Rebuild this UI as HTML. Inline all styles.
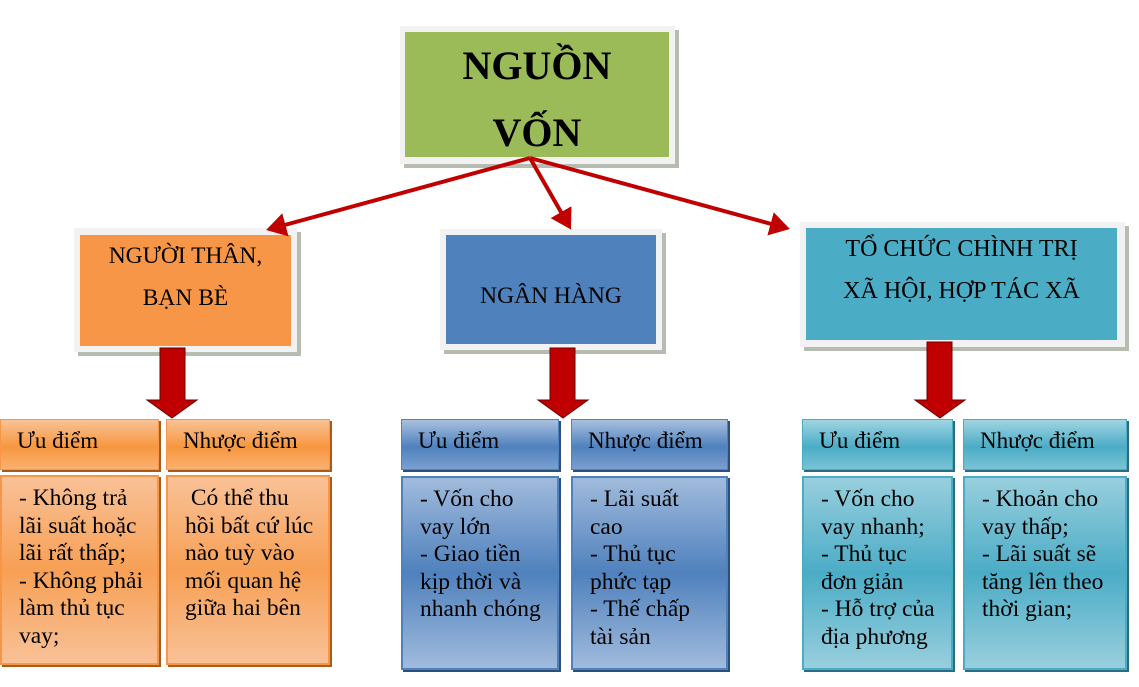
<!DOCTYPE html>
<html><head><meta charset="utf-8"><style>
body{margin:0;width:1139px;height:687px;background:#fff;position:relative;overflow:hidden;font-family:"Liberation Serif",serif;color:#000}
.a{position:absolute;box-sizing:border-box}
.fr{background:#f2f2f2;box-shadow:4px 4px 0 #b7bcb0}
.t{font-size:23.5px;line-height:27px;white-space:nowrap}
.h{font-size:23px;line-height:27px;padding:7px 0 0 16px;white-space:nowrap}
.b{font-size:23.5px;line-height:27.5px;padding:8px 0 0 17px;white-space:nowrap}
.oh{background:linear-gradient(#f9c295,#f7973f 55%,#fbb070);border:1px solid #f79646;box-shadow:2px 2px 0 #a95b1d}
.ob{background:linear-gradient(#f9c197,#f7a055 50%,#f9c197);border:2px solid #f79646;box-shadow:2px 2px 0 #a95b1d}
.bh{background:linear-gradient(#a9c0df,#4f81bd 55%,#7a9fd0);border:1px solid #4f81bd;box-shadow:2px 2px 0 #2d4f7c}
.bb{background:linear-gradient(#a1bbdc,#4f81bd 50%,#a1bbdc);border:2px solid #4f81bd;box-shadow:2px 2px 0 #2d4f7c}
.th{background:linear-gradient(#9fd5e2,#4bacc6 55%,#7ac3d6);border:1px solid #4bacc6;box-shadow:2px 2px 0 #2a6d80}
.tb{background:linear-gradient(#98cfdd,#4bacc6 50%,#98cfdd);border:2px solid #4bacc6;box-shadow:2px 2px 0 #2a6d80}
</style></head><body>
<div class="a fr" style="left:400px;top:26px;width:275px;height:138px"></div>
<div class="a" style="left:405px;top:32px;width:264px;height:125px;background:#9bbb59;text-align:center;font-weight:bold;font-size:40px;line-height:67px;padding-top:0px">NGUỒN<br>VỐN</div>

<div class="a fr" style="left:74px;top:228px;width:223px;height:124px"></div>
<div class="a t" style="left:80px;top:235px;width:211px;height:111px;background:#f79646;text-align:center;padding-top:0px;line-height:42px">NGƯỜI THÂN,<br>BẠN BÈ</div>

<div class="a fr" style="left:440px;top:229px;width:222px;height:121px"></div>
<div class="a t" style="left:446px;top:235px;width:210px;height:109px;background:#4f81bd;text-align:center;padding-top:48px">NGÂN HÀNG</div>

<div class="a fr" style="left:800px;top:222px;width:325px;height:125px"></div>
<div class="a t" style="left:806px;top:228px;width:311px;height:112px;background:#4bacc6;text-align:center;padding-top:0px;line-height:42px;font-size:24px">TỔ CHỨC CHÌNH TRỊ<br>XÃ HỘI, HỢP TÁC XÃ</div>

<svg class="a" style="left:0;top:0" width="1139" height="687">
<defs><marker id="m" markerWidth="6" markerHeight="6" refX="4" refY="3" orient="auto" markerUnits="strokeWidth"><path d="M0,0 L5,3 L0,6 z" fill="#c00000"/></marker></defs>
<g stroke="#c00000" stroke-width="4" fill="none">
<line x1="530" y1="158" x2="270" y2="229" marker-end="url(#m)"/>
<line x1="530" y1="158" x2="569" y2="226" marker-end="url(#m)"/>
<line x1="530" y1="158" x2="786" y2="228" marker-end="url(#m)"/>
</g>
<g fill="#c00000" stroke="#6b0000" stroke-width="1">
<path d="M160,348 H185 V400 H197 L172,418 L147,400 H160 Z"/>
<path d="M550,348 H575 V400 H588 L563,418 L538,400 H550 Z"/>
<path d="M927,342 H952 V400 H965 L940,418 L915,400 H927 Z"/>
</g>
</svg>

<div class="a h oh" style="left:0;top:419px;width:159px;height:51px">Ưu điểm</div>
<div class="a h oh" style="left:166px;top:419px;width:164px;height:51px">Nhược điểm</div>
<div class="a b ob" style="left:0;top:475px;width:159px;height:190px">- Không trả<br>lãi suất hoặc<br>lãi rất thấp;<br>- Không phải<br>làm thủ tục<br>vay;</div>
<div class="a b ob" style="left:166px;top:475px;width:164px;height:190px">&nbsp;Có thể thu<br>hồi bất cứ lúc<br>nào tuỳ vào<br>mối quan hệ<br>giữa hai bên</div>

<div class="a h bh" style="left:401px;top:419px;width:158px;height:51px">Ưu điểm</div>
<div class="a h bh" style="left:571px;top:419px;width:157px;height:51px">Nhược điểm</div>
<div class="a b bb" style="left:401px;top:476px;width:158px;height:194px">- Vốn cho<br>vay lớn<br>- Giao tiền<br>kịp thời và<br>nhanh chóng</div>
<div class="a b bb" style="left:571px;top:476px;width:157px;height:194px">- Lãi suất<br>cao<br>- Thủ tục<br>phức tạp<br>- Thế chấp<br>tài sản</div>

<div class="a h th" style="left:802px;top:419px;width:151px;height:51px">Ưu điểm</div>
<div class="a h th" style="left:963px;top:419px;width:164px;height:51px">Nhược điểm</div>
<div class="a b tb" style="left:802px;top:476px;width:151px;height:194px">- Vốn cho<br>vay nhanh;<br>- Thủ tục<br>đơn giản<br>- Hỗ trợ của<br>địa phương</div>
<div class="a b tb" style="left:963px;top:476px;width:164px;height:194px">- Khoản cho<br>vay thấp;<br>- Lãi suất sẽ<br>tăng lên theo<br>thời gian;</div>
</body></html>
